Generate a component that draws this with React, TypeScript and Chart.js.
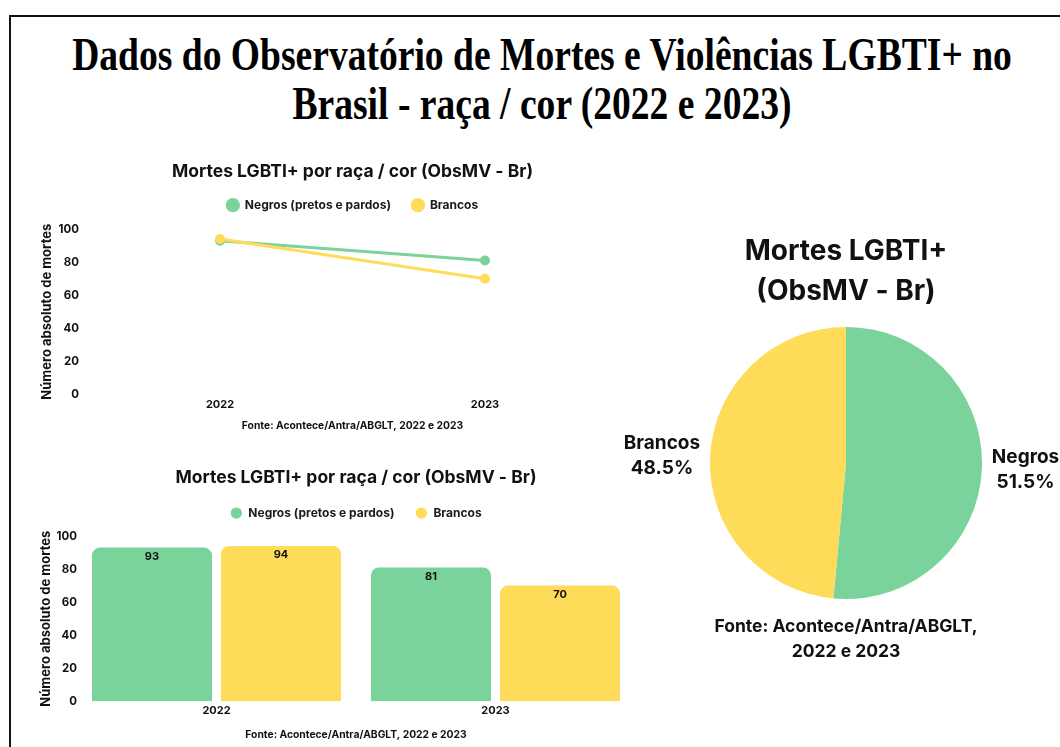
import React, { useEffect, useLayoutEffect, useRef } from 'react';
import { Chart, registerables } from 'chart.js';

Chart.register(...registerables);

const FONT = 'Inter, "Noto Sans", sans-serif';
Chart.defaults.font.family = FONT;
Chart.defaults.color = '#111';

// ---------- data ----------
const mainTitleLines = ['Dados do Observatório de Mortes e Violências LGBTI+ no', 'Brasil - raça / cor (2022 e 2023)'];
const chartTitle = 'Mortes LGBTI+ por raça / cor (ObsMV - Br)';
const sourceText = 'Fonte: Acontece/Antra/ABGLT, 2022 e 2023';
const years = ['2022', '2023'];
const seriesNames = ['Negros (pretos e pardos)', 'Brancos'];
const negros = [93, 81];
const brancos = [94, 70];
const yTicks = [0, 20, 40, 60, 80, 100];
const yAxisTitle = 'Número absoluto de mortes';
const pieTitle = ['Mortes LGBTI+', '(ObsMV - Br)'];
const pieLabels = ['Negros', 'Brancos'];
const pieValues = [negros[0] + negros[1], brancos[0] + brancos[1]];
const pieSource = ['Fonte: Acontece/Antra/ABGLT,', '2022 e 2023'];

const GREEN = '#7AD39B';
const YELLOW = '#FEDB58';
const INK = '#111111';

const bold = (size: number, lineHeight?: number) => ({ family: FONT, size, weight: 'bold' as const, ...(lineHeight ? { lineHeight } : {}) });

type Geo = {
  titleTop: number; titleBottom: number; legendPad: number; spacer: number;
  xPad: number; subTop: number; subBottom: number; yWidth: number; yPad: number; yTitlePad: number; right: number;
};

function cartesianOptions(g: Geo) {
  return {
    animation: false,
    responsive: false,
    maintainAspectRatio: false,
    layout: { padding: { top: 0, right: g.right, bottom: 0, left: 0 } },
    plugins: {
      tooltip: { enabled: false },
      title: {
        display: true, text: chartTitle, fullSize: false, color: INK,
        font: bold(17.5, 0.7), padding: { top: g.titleTop, bottom: g.titleBottom },
      },
      legend: {
        display: true, position: 'top', fullSize: false,
        labels: {
          usePointStyle: true, pointStyle: 'circle', boxHeight: 8, padding: g.legendPad, color: '#1a1a1a', font: bold(12),
          sort: (a: any, b: any) => a.datasetIndex - b.datasetIndex,
        },
      },
      subtitle: {
        display: true, position: 'bottom', text: sourceText, fullSize: false, color: INK,
        font: bold(10.3), padding: { top: g.subTop, bottom: g.subBottom },
      },
    },
    scales: {
      x: {
        type: 'category', offset: true,
        grid: { display: false, drawTicks: false }, border: { display: false },
        ticks: { padding: g.xPad, color: INK, font: bold(11), maxRotation: 0 },
      },
      xTop: {
        type: 'category', position: 'top', display: true,
        grid: { display: false, drawTicks: false }, border: { display: false },
        ticks: { display: false },
        afterFit: (s: any) => { s.height = g.spacer; },
      },
      y: {
        min: yTicks[0], max: yTicks[yTicks.length - 1],
        ticks: { stepSize: yTicks[1] - yTicks[0], padding: g.yPad, color: INK, font: bold(11.5) },
        grid: { display: false, drawTicks: false }, border: { display: false },
        title: { display: true, text: yAxisTitle, color: INK, font: bold(13), padding: { top: g.yTitlePad, bottom: 0 } },
        afterFit: (s: any) => { s.width = g.yWidth; },
      },
    },
  };
}

const barValueLabels = {
  id: 'barValueLabels',
  afterDatasetsDraw(chart: any) {
    const ctx = chart.ctx;
    ctx.save();
    ctx.font = `bold 11px ${FONT}`;
    ctx.fillStyle = INK;
    ctx.textAlign = 'center';
    ctx.textBaseline = 'middle';
    chart.data.datasets.forEach((ds: any, i: number) => {
      chart.getDatasetMeta(i).data.forEach((el: any, j: number) => {
        ctx.fillText(String(ds.data[j]), el.x, el.y + 9);
      });
    });
    ctx.restore();
  },
};

const pieOutsideLabels = {
  id: 'pieOutsideLabels',
  afterDatasetsDraw(chart: any) {
    const ctx = chart.ctx;
    const ds = chart.data.datasets[0];
    const total = ds.data.reduce((a: number, b: number) => a + b, 0);
    ctx.save();
    ctx.font = `bold 19px ${FONT}`;
    ctx.fillStyle = INK;
    ctx.textAlign = 'center';
    ctx.textBaseline = 'middle';
    chart.getDatasetMeta(0).data.forEach((arc: any, i: number) => {
      const p = arc.getProps(['x', 'y', 'startAngle', 'endAngle', 'outerRadius'], true);
      const mid = (p.startAngle + p.endAngle) / 2;
      const lines = [String(chart.data.labels[i]), ((ds.data[i] / total) * 100).toFixed(1) + '%'];
      const w = Math.max(...lines.map((l) => ctx.measureText(l).width));
      const ex = p.x + Math.cos(mid) * (p.outerRadius + 10);
      const ey = p.y + Math.sin(mid) * (p.outerRadius + 10);
      const cx = Math.cos(mid) >= 0 ? ex + w / 2 : ex - w / 2;
      lines.forEach((l, k) => ctx.fillText(l, cx, ey + (k - 0.5) * 25));
    });
    ctx.restore();
  },
};

function makeLine(): any {
  return {
    type: 'line',
    data: {
      labels: years,
      datasets: [
        { label: seriesNames[0], data: negros, order: 1, borderColor: GREEN, backgroundColor: GREEN, pointBackgroundColor: GREEN, pointBorderColor: GREEN, borderWidth: 3, pointRadius: 3.5, tension: 0 },
        { label: seriesNames[1], data: brancos, order: 0, borderColor: YELLOW, backgroundColor: YELLOW, pointBackgroundColor: YELLOW, pointBorderColor: YELLOW, borderWidth: 3, pointRadius: 3.5, tension: 0 },
      ],
    },
    options: cartesianOptions({
      titleTop: 15.9, titleBottom: 0, legendPad: 21, spacer: 8,
      xPad: 3.4, subTop: 5.4, subBottom: 8, yWidth: 57.5, yPad: 8.5, yTitlePad: 9.2, right: 32.5,
    }),
  };
}

function makeBar(): any {
  return {
    type: 'bar',
    data: {
      labels: years,
      datasets: [
        { label: seriesNames[0], data: negros, backgroundColor: GREEN, borderRadius: 8, borderSkipped: 'start', barPercentage: 0.93, categoryPercentage: 0.925 },
        { label: seriesNames[1], data: brancos, backgroundColor: YELLOW, borderRadius: 8, borderSkipped: 'start', barPercentage: 0.93, categoryPercentage: 0.925 },
      ],
    },
    options: cartesianOptions({
      titleTop: 16.9, titleBottom: 1.9, legendPad: 21, spacer: 7,
      xPad: 2.4, subTop: 9.4, subBottom: 6, yWidth: 47, yPad: 0, yTitlePad: 8.2, right: 15,
    }),
    plugins: [barValueLabels],
  };
}

function makePie(): any {
  return {
    type: 'pie',
    data: {
      labels: pieLabels,
      datasets: [{ data: pieValues, backgroundColor: [GREEN, YELLOW], borderWidth: 0 }],
    },
    options: {
      animation: false,
      responsive: false,
      maintainAspectRatio: false,
      layout: { padding: { top: 0, right: 18, bottom: 0, left: 50 } },
      plugins: {
        legend: { display: false },
        tooltip: { enabled: false },
        title: { display: true, text: pieTitle, color: INK, font: bold(28, 40 / 28), padding: { top: 32, bottom: 15 } },
        subtitle: { display: true, position: 'bottom', text: pieSource, color: INK, font: bold(17.5, 25 / 17.5), padding: { top: 15.5, bottom: 15.5 } },
      },
    },
    plugins: [pieOutsideLabels],
  };
}

function ChartBox(props: { left: number; top: number; width: number; height: number; make: () => any }) {
  const ref = useRef<HTMLCanvasElement>(null);
  useEffect(() => {
    const chart = new Chart(ref.current as HTMLCanvasElement, props.make());
    return () => chart.destroy();
  }, []);
  return (
    <canvas
      ref={ref}
      width={props.width}
      height={props.height}
      style={{ position: 'absolute', left: props.left, top: props.top, width: props.width, height: props.height }}
    />
  );
}

function MainTitle() {
  const r1 = useRef<HTMLSpanElement>(null);
  const r2 = useRef<HTMLSpanElement>(null);
  useLayoutEffect(() => {
    if (!r1.current || !r2.current) return;
    const w = r1.current.offsetWidth;
    const k = 940 / w;
    r1.current.style.transform = `translateX(-50%) scaleX(${k})`;
    r2.current.style.transform = `translateX(-50%) scaleX(${k})`;
  }, []);
  const spanStyle: React.CSSProperties = {
    position: 'absolute', left: 542, display: 'inline-block', transformOrigin: 'center', transform: 'translateX(-50%)',
    height: 49, lineHeight: '49px', whiteSpace: 'nowrap',
    fontFamily: '"Liberation Serif", "Times New Roman", serif', fontWeight: 'bold', fontSize: 46, color: '#000',
  };
  return (
    <>
      <span ref={r1} style={{ ...spanStyle, top: 30 }}>{mainTitleLines[0]}</span>
      <span ref={r2} style={{ ...spanStyle, top: 79 }}>{mainTitleLines[1]}</span>
    </>
  );
}

export default function App() {
  return (
    <div style={{ position: 'fixed', left: 0, top: 0, width: 1060, height: 747, background: '#fff', overflow: 'hidden' }}>
      <div style={{ position: 'absolute', left: 9, top: 15, width: 1100, height: 800, borderTop: '2px solid #111', borderLeft: '2px solid #111' }} />
      <MainTitle />
      <ChartBox left={30} top={150} width={620} height={290} make={makeLine} />
      <ChartBox left={30} top={455} width={620} height={292} make={makeBar} />
      <ChartBox left={600} top={200} width={460} height={480} make={makePie} />
    </div>
  );
}
